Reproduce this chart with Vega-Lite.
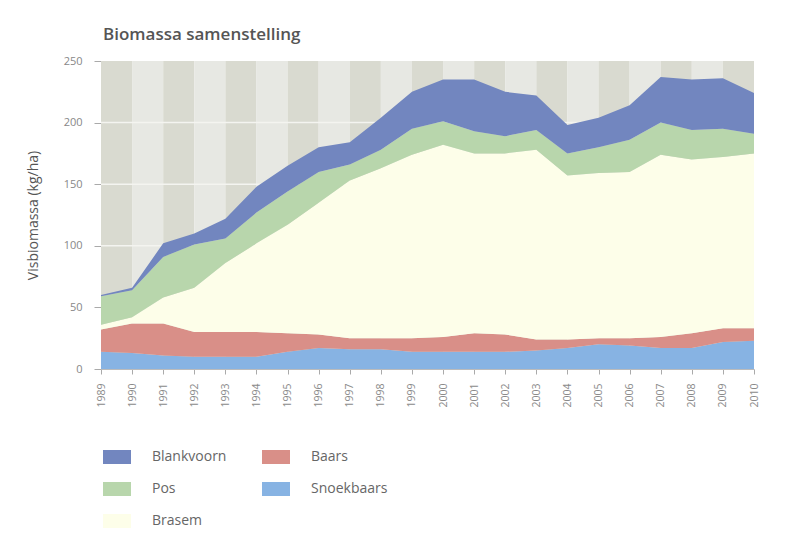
{
  "$schema": "https://vega.github.io/schema/vega-lite/v6.json",
  "autosize": {"type": "none"},
  "width": 653,
  "height": 308,
  "padding": {"left": 101, "top": 61, "right": 55, "bottom": 164},
  "background": "white",
  "config": {"font": "Open Sans", "view": {"stroke": null}},
  "title": {"text": "Biomassa samenstelling", "anchor": "start", "frame": "group", "fontSize": 17, "fontWeight": 600, "color": "#555555", "offset": 11, "dx": 2},
  "datasets": {
    "bio": [
      {"year":1989,"species":"Snoekbaars","value":14},{"year":1989,"species":"Baars","value":18},{"year":1989,"species":"Brasem","value":4},{"year":1989,"species":"Pos","value":23},{"year":1989,"species":"Blankvoorn","value":1},
      {"year":1990,"species":"Snoekbaars","value":13},{"year":1990,"species":"Baars","value":24},{"year":1990,"species":"Brasem","value":5},{"year":1990,"species":"Pos","value":22},{"year":1990,"species":"Blankvoorn","value":2},
      {"year":1991,"species":"Snoekbaars","value":11},{"year":1991,"species":"Baars","value":26},{"year":1991,"species":"Brasem","value":21},{"year":1991,"species":"Pos","value":33},{"year":1991,"species":"Blankvoorn","value":11},
      {"year":1992,"species":"Snoekbaars","value":10},{"year":1992,"species":"Baars","value":20},{"year":1992,"species":"Brasem","value":36},{"year":1992,"species":"Pos","value":35},{"year":1992,"species":"Blankvoorn","value":9},
      {"year":1993,"species":"Snoekbaars","value":10},{"year":1993,"species":"Baars","value":20},{"year":1993,"species":"Brasem","value":56},{"year":1993,"species":"Pos","value":20},{"year":1993,"species":"Blankvoorn","value":16},
      {"year":1994,"species":"Snoekbaars","value":10},{"year":1994,"species":"Baars","value":20},{"year":1994,"species":"Brasem","value":72},{"year":1994,"species":"Pos","value":25},{"year":1994,"species":"Blankvoorn","value":21},
      {"year":1995,"species":"Snoekbaars","value":14},{"year":1995,"species":"Baars","value":15},{"year":1995,"species":"Brasem","value":88},{"year":1995,"species":"Pos","value":27},{"year":1995,"species":"Blankvoorn","value":21},
      {"year":1996,"species":"Snoekbaars","value":17},{"year":1996,"species":"Baars","value":11},{"year":1996,"species":"Brasem","value":107},{"year":1996,"species":"Pos","value":25},{"year":1996,"species":"Blankvoorn","value":20},
      {"year":1997,"species":"Snoekbaars","value":16},{"year":1997,"species":"Baars","value":9},{"year":1997,"species":"Brasem","value":128},{"year":1997,"species":"Pos","value":13},{"year":1997,"species":"Blankvoorn","value":18},
      {"year":1998,"species":"Snoekbaars","value":16},{"year":1998,"species":"Baars","value":9},{"year":1998,"species":"Brasem","value":138},{"year":1998,"species":"Pos","value":15},{"year":1998,"species":"Blankvoorn","value":26},
      {"year":1999,"species":"Snoekbaars","value":14},{"year":1999,"species":"Baars","value":11},{"year":1999,"species":"Brasem","value":149},{"year":1999,"species":"Pos","value":21},{"year":1999,"species":"Blankvoorn","value":30},
      {"year":2000,"species":"Snoekbaars","value":14},{"year":2000,"species":"Baars","value":12},{"year":2000,"species":"Brasem","value":156},{"year":2000,"species":"Pos","value":19},{"year":2000,"species":"Blankvoorn","value":34},
      {"year":2001,"species":"Snoekbaars","value":14},{"year":2001,"species":"Baars","value":15},{"year":2001,"species":"Brasem","value":146},{"year":2001,"species":"Pos","value":18},{"year":2001,"species":"Blankvoorn","value":42},
      {"year":2002,"species":"Snoekbaars","value":14},{"year":2002,"species":"Baars","value":14},{"year":2002,"species":"Brasem","value":147},{"year":2002,"species":"Pos","value":14},{"year":2002,"species":"Blankvoorn","value":36},
      {"year":2003,"species":"Snoekbaars","value":15},{"year":2003,"species":"Baars","value":9},{"year":2003,"species":"Brasem","value":154},{"year":2003,"species":"Pos","value":16},{"year":2003,"species":"Blankvoorn","value":28},
      {"year":2004,"species":"Snoekbaars","value":17},{"year":2004,"species":"Baars","value":7},{"year":2004,"species":"Brasem","value":133},{"year":2004,"species":"Pos","value":18},{"year":2004,"species":"Blankvoorn","value":23},
      {"year":2005,"species":"Snoekbaars","value":20},{"year":2005,"species":"Baars","value":5},{"year":2005,"species":"Brasem","value":134},{"year":2005,"species":"Pos","value":21},{"year":2005,"species":"Blankvoorn","value":24},
      {"year":2006,"species":"Snoekbaars","value":19},{"year":2006,"species":"Baars","value":6},{"year":2006,"species":"Brasem","value":135},{"year":2006,"species":"Pos","value":26},{"year":2006,"species":"Blankvoorn","value":28},
      {"year":2007,"species":"Snoekbaars","value":17},{"year":2007,"species":"Baars","value":9},{"year":2007,"species":"Brasem","value":148},{"year":2007,"species":"Pos","value":26},{"year":2007,"species":"Blankvoorn","value":37},
      {"year":2008,"species":"Snoekbaars","value":17},{"year":2008,"species":"Baars","value":12},{"year":2008,"species":"Brasem","value":141},{"year":2008,"species":"Pos","value":24},{"year":2008,"species":"Blankvoorn","value":41},
      {"year":2009,"species":"Snoekbaars","value":22},{"year":2009,"species":"Baars","value":11},{"year":2009,"species":"Brasem","value":139},{"year":2009,"species":"Pos","value":23},{"year":2009,"species":"Blankvoorn","value":41},
      {"year":2010,"species":"Snoekbaars","value":23},{"year":2010,"species":"Baars","value":10},{"year":2010,"species":"Brasem","value":142},{"year":2010,"species":"Pos","value":16},{"year":2010,"species":"Blankvoorn","value":33}
    ],
    "stripes": [
      {"from":1989,"to":1990,"shade":"dark"},{"from":1990,"to":1991,"shade":"light"},{"from":1991,"to":1992,"shade":"dark"},{"from":1992,"to":1993,"shade":"light"},
      {"from":1993,"to":1994,"shade":"dark"},{"from":1994,"to":1995,"shade":"light"},{"from":1995,"to":1996,"shade":"dark"},{"from":1996,"to":1997,"shade":"light"},
      {"from":1997,"to":1998,"shade":"dark"},{"from":1998,"to":1999,"shade":"light"},{"from":1999,"to":2000,"shade":"dark"},{"from":2000,"to":2001,"shade":"light"},
      {"from":2001,"to":2002,"shade":"dark"},{"from":2002,"to":2003,"shade":"light"},{"from":2003,"to":2004,"shade":"dark"},{"from":2004,"to":2005,"shade":"light"},
      {"from":2005,"to":2006,"shade":"dark"},{"from":2006,"to":2007,"shade":"light"},{"from":2007,"to":2008,"shade":"dark"},{"from":2008,"to":2009,"shade":"light"},
      {"from":2009,"to":2010,"shade":"dark"}
    ],
    "grid": [{"g":50},{"g":100},{"g":150},{"g":200}]
  },
  "resolve": {"scale": {"color": "independent"}},
  "layer": [
    {
      "data": {"name": "stripes"},
      "mark": {"type": "rect"},
      "encoding": {
        "x": {"field": "from", "type": "quantitative", "scale": {"domain": [1989, 2010], "nice": false, "zero": false},
          "axis": {"title": null, "values": [1989,1990,1991,1992,1993,1994,1995,1996,1997,1998,1999,2000,2001,2002,2003,2004,2005,2006,2007,2008,2009,2010],
            "format": "d", "labelAngle": -90, "labelFontSize": 10.5, "labelColor": "#8a8a8a", "labelPadding": 9, "tickSize": 5, "tickColor": "#aaaaaa", "domainColor": "#bbbbbb", "grid": false}},
        "x2": {"field": "to"},
        "color": {"field": "shade", "type": "nominal", "scale": {"domain": ["dark", "light"], "range": ["#d9dad0", "#e7e8e3"]}, "legend": null}
      }
    },
    {
      "data": {"name": "grid"},
      "mark": {"type": "rule", "color": "#f4f4f0", "strokeWidth": 1.5},
      "encoding": {
        "y": {"field": "g", "type": "quantitative", "scale": {"domain": [0, 250]},
          "axis": {"title": "Visbiomassa (kg/ha)", "titleFontSize": 14, "titleFontWeight": "normal", "titleColor": "#555555", "titlePadding": 23,
            "values": [0, 50, 100, 150, 200, 250], "labelFontSize": 11, "labelColor": "#888888", "labelPadding": 12, "tickSize": 7, "tickColor": "#aaaaaa", "domain": false, "grid": false}}
      }
    },
    {
      "data": {"name": "bio"},
      "mark": {"type": "area", "interpolate": "linear"},
      "encoding": {
        "x": {"field": "year", "type": "quantitative", "scale": {"domain": [1989, 2010], "nice": false, "zero": false},
          "axis": {"title": null, "values": [1989,1990,1991,1992,1993,1994,1995,1996,1997,1998,1999,2000,2001,2002,2003,2004,2005,2006,2007,2008,2009,2010],
            "format": "d", "labelAngle": -90, "labelFontSize": 10.5, "labelColor": "#8a8a8a", "labelPadding": 9, "tickSize": 5, "tickColor": "#aaaaaa", "domainColor": "#bbbbbb", "grid": false}},
        "y": {"field": "value", "type": "quantitative", "stack": "zero", "scale": {"domain": [0, 250]},
          "axis": {"title": "Visbiomassa (kg/ha)", "titleFontSize": 14, "titleFontWeight": "normal", "titleColor": "#555555", "titlePadding": 23,
            "values": [0, 50, 100, 150, 200, 250], "labelFontSize": 11, "labelColor": "#888888", "labelPadding": 12, "tickSize": 7, "tickColor": "#aaaaaa", "domain": false, "grid": false}},
        "color": {"field": "species", "type": "nominal",
          "scale": {"domain": ["Blankvoorn", "Baars", "Pos", "Snoekbaars", "Brasem"], "range": ["#7286bf", "#d98f88", "#b8d6ac", "#87b3e3", "#fdfee9"]},
          "legend": {"title": null, "orient": "none", "legendX": 2, "legendY": 382, "columns": 2, "direction": "horizontal",
            "symbolType": "M-1,-0.5H1V0.5H-1Z", "symbolSize": 784, "symbolStrokeWidth": 0, "symbolOpacity": 1,
            "labelFontSize": 14, "labelColor": "#666666", "labelOffset": 21, "rowPadding": 11, "columnPadding": 33, "gridAlign": "all"}},
        "order": {"field": "ord", "type": "quantitative"}
      },
      "transform": [
        {"lookup": "species", "from": {"data": {"values": [{"s": "Snoekbaars", "ord": 1}, {"s": "Baars", "ord": 2}, {"s": "Brasem", "ord": 3}, {"s": "Pos", "ord": 4}, {"s": "Blankvoorn", "ord": 5}]}, "key": "s", "fields": ["ord"]}}
      ]
    }
  ]
}
